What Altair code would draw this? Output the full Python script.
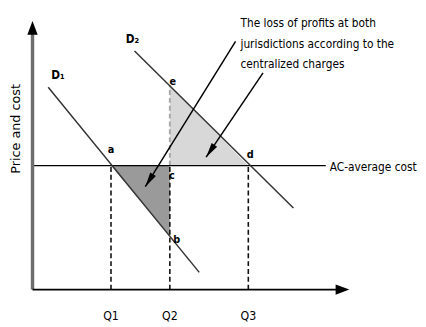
import math
import altair as alt
import pandas as pd

# ---------------- data ----------------
Q_LABELS = ["Q1", "Q2", "Q3"]
Q_VALUES = [2.0, 3.5, 5.5]
AC_PRICE = 3.95
AC_LINE_END = 7.475
AC_LABEL = "AC-average cost"
D1_X = [0.4, 4.25]
D1_Y = [6.45, 0.55]
D2_X = [2.6, 6.65]
D2_Y = [7.6, 2.6]
POINT_NAMES = ["a", "b", "c", "d", "e"]
POINT_X = [2.0, 3.5, 3.5, 5.5, 3.5]
POINT_Y = [3.95, 1.7, 3.95, 3.95, 6.5]
CURVE_NAMES = ["D₁", "D₂"]
CURVE_LABEL_X = [0.475, 2.375]
CURVE_LABEL_Y = [6.84, 7.97]
NOTE_LINES = ["The loss of profits at both",
              "jurisdictions according to the",
              "centralized charges"]
NOTE_X = 5.3
NOTE_Y = [8.5, 7.81, 7.19]
ARROW_START_X = [5.175, 5.875]
ARROW_START_Y = [7.906, 6.906]
ARROW_END_X = [2.875, 4.425]
ARROW_END_Y = [3.28, 4.22]
AXIS_X_MAX = 8.075
AXIS_Y_MAX = 8.56
Y_TITLE = "Price and cost"
Y_TITLE_POS = (-0.41, 5.12)

# ---------------- scales ----------------
W, H = 418, 319
PX_X, PX_Y = 40.0, 32.0
X0, Y1 = -0.625, 8.875
XS = alt.Scale(domain=[X0, X0 + W / PX_X], nice=False, zero=False)
YS = alt.Scale(domain=[Y1 - H / PX_Y, Y1], nice=False, zero=False)


def ex(f="x"):
    return alt.X(f"{f}:Q", scale=XS, axis=None)


def ey(f="y"):
    return alt.Y(f"{f}:Q", scale=YS, axis=None)


def angle_of(dx, dy):
    vx, vy = dx * PX_X, -dy * PX_Y
    return math.degrees(math.atan2(vx, -vy)) % 360


FONT = "Liberation Sans Narrow, DejaVu Sans Condensed, Liberation Sans"
pts = dict(zip(POINT_NAMES, zip(POINT_X, POINT_Y)))

layers = []

# shaded triangles
light = pd.DataFrame({"x": [pts["e"][0], pts["d"][0]],
                      "y": [pts["e"][1], pts["d"][1]],
                      "y2": [AC_PRICE, AC_PRICE]})
layers.append(alt.Chart(light).mark_area(color="#d8d8d8").encode(
    x=ex(), y=ey(), y2="y2:Q"))
dark = pd.DataFrame({"x": [pts["a"][0], pts["b"][0]],
                     "y": [pts["a"][1], pts["b"][1]],
                     "y2": [AC_PRICE, AC_PRICE]})
layers.append(alt.Chart(dark).mark_area(color="#9a9a9a").encode(
    x=ex(), y=ey(), y2="y2:Q"))

# dashed guide lines
dash_black = pd.DataFrame({"x": Q_VALUES, "y": [0.0] * 3, "y2": [AC_PRICE] * 3})
layers.append(alt.Chart(dash_black).mark_rule(
    color="#111", strokeWidth=1.6, strokeDash=[5, 3]).encode(
    x=ex(), y=ey(), y2="y2:Q"))
dash_gray = pd.DataFrame({"x": [pts["e"][0]], "y": [AC_PRICE], "y2": [pts["e"][1]]})
layers.append(alt.Chart(dash_gray).mark_rule(
    color="#a8a8a8", strokeWidth=2, strokeDash=[5, 3]).encode(
    x=ex(), y=ey(), y2="y2:Q"))

# AC line
ac = pd.DataFrame({"x": [0.0], "x2": [AC_LINE_END], "y": [AC_PRICE]})
layers.append(alt.Chart(ac).mark_rule(color="#000", strokeWidth=1.4).encode(
    x=ex(), x2="x2:Q", y=ey()))

# demand curves
curves = pd.DataFrame({
    "x": D1_X + D2_X, "y": D1_Y + D2_Y,
    "c": ["D1", "D1", "D2", "D2"]})
layers.append(alt.Chart(curves).mark_line(color="#333", strokeWidth=1.5).encode(
    x=ex(), y=ey(), detail="c:N"))

# axes
yax = pd.DataFrame({"x": [0.0], "y": [0.0], "y2": [AXIS_Y_MAX - 0.4]})
layers.append(alt.Chart(yax).mark_rule(color="#6e6e6e", strokeWidth=3.5).encode(
    x=ex(), y=ey(), y2="y2:Q"))
xax = pd.DataFrame({"x": [0.0], "x2": [AXIS_X_MAX - 0.25], "y": [0.0]})
layers.append(alt.Chart(xax).mark_rule(color="#000", strokeWidth=2).encode(
    x=ex(), x2="x2:Q", y=ey()))
HEAD = "M0,0L-0.75,2L0.75,2Z"
heads = pd.DataFrame({"x": [0.0, AXIS_X_MAX], "y": [AXIS_Y_MAX, 0.0],
                      "a": [angle_of(0, 1), angle_of(1, 0)]})
layers.append(alt.Chart(heads).mark_point(
    shape=HEAD, filled=True, opacity=1, color="#000", size=196).encode(
    x=ex(), y=ey(), angle=alt.Angle("a:Q", scale=None)))

# annotation arrows
arr = pd.DataFrame({"x": ARROW_START_X, "y": ARROW_START_Y,
                    "x2": ARROW_END_X, "y2": ARROW_END_Y})
layers.append(alt.Chart(arr).mark_rule(color="#000", strokeWidth=1.5).encode(
    x=ex(), y=ey(), x2="x2:Q", y2="y2:Q"))
ahead = pd.DataFrame({
    "x": ARROW_END_X, "y": ARROW_END_Y,
    "a": [angle_of(e - s, f - t) for s, t, e, f in
          zip(ARROW_START_X, ARROW_START_Y, ARROW_END_X, ARROW_END_Y)]})
layers.append(alt.Chart(ahead).mark_point(
    shape="M0,0L-0.45,2L0.45,2Z", filled=True, opacity=1, color="#000",
    size=225).encode(x=ex(), y=ey(), angle=alt.Angle("a:Q", scale=None)))

# point labels
OFFS = {"a": (0, -16), "b": (7, 4), "c": (2, 11), "d": (2, -11), "e": (3, -4)}
for n in POINT_NAMES:
    d = pd.DataFrame({"x": [pts[n][0]], "y": [pts[n][1]], "t": [n]})
    layers.append(alt.Chart(d).mark_text(
        font=FONT, fontSize=11, fontWeight="bold", color="#000",
        dx=OFFS[n][0], dy=OFFS[n][1]).encode(x=ex(), y=ey(), text="t:N"))

# curve labels
cl = pd.DataFrame({"x": CURVE_LABEL_X, "y": CURVE_LABEL_Y, "t": CURVE_NAMES})
layers.append(alt.Chart(cl).mark_text(
    font=FONT, fontSize=12, fontWeight="bold", align="left", color="#000").encode(
    x=ex(), y=ey(), text="t:N"))

# Q labels
ql = pd.DataFrame({"x": Q_VALUES, "y": [0.0] * 3, "t": Q_LABELS})
layers.append(alt.Chart(ql).mark_text(
    font=FONT, fontSize=12.5, color="#000", dy=27).encode(
    x=ex(), y=ey(), text="t:N"))

# AC label
acl = pd.DataFrame({"x": [AC_LINE_END], "y": [AC_PRICE], "t": [AC_LABEL]})
layers.append(alt.Chart(acl).mark_text(
    font=FONT, fontSize=12, align="left", color="#000", dx=4, dy=1).encode(
    x=ex(), y=ey(), text="t:N"))

# note text
nl = pd.DataFrame({"x": [NOTE_X] * 3, "y": NOTE_Y, "t": NOTE_LINES})
layers.append(alt.Chart(nl).mark_text(
    font=FONT, fontSize=12, align="left", color="#000").encode(
    x=ex(), y=ey(), text="t:N"))

# y title
yt = pd.DataFrame({"x": [Y_TITLE_POS[0]], "y": [Y_TITLE_POS[1]], "t": [Y_TITLE]})
layers.append(alt.Chart(yt).mark_text(
    font="DejaVu Sans", fontSize=13, angle=270, color="#000").encode(
    x=ex(), y=ey(), text="t:N"))

chart = alt.layer(*layers).properties(
    width=W, height=H, padding=0, autosize="none", background="white"
).configure_view(stroke=None)

chart.save("out.html", embed_options={"renderer": "svg", "actions": False})
